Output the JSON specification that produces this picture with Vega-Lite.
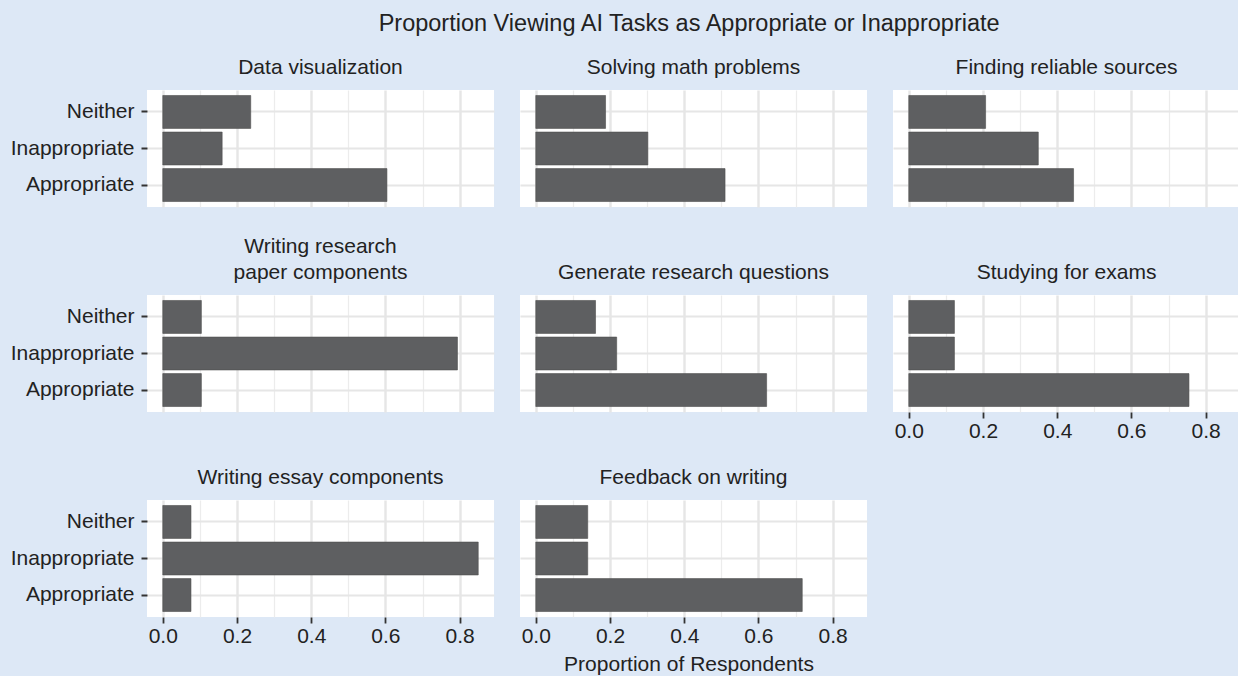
{
  "$schema": "https://vega.github.io/schema/vega-lite/v6.json",
  "background": "#dde8f6",
  "padding": {"left": 10, "top": 11, "right": 0, "bottom": 2},
  "title": {
    "text": "Proportion Viewing AI Tasks as Appropriate or Inappropriate",
    "fontSize": 23.5,
    "anchor": "middle",
    "frame": "bounds",
    "dx": 64,
    "offset": 22
  },
  "data": {
    "values": [
      {"task": "Data visualization", "response": "Neither", "prop": 0.237},
      {"task": "Data visualization", "response": "Inappropriate", "prop": 0.16},
      {"task": "Data visualization", "response": "Appropriate", "prop": 0.604},
      {"task": "Solving math problems", "response": "Neither", "prop": 0.188},
      {"task": "Solving math problems", "response": "Inappropriate", "prop": 0.302},
      {"task": "Solving math problems", "response": "Appropriate", "prop": 0.51},
      {"task": "Finding reliable sources", "response": "Neither", "prop": 0.207},
      {"task": "Finding reliable sources", "response": "Inappropriate", "prop": 0.349},
      {"task": "Finding reliable sources", "response": "Appropriate", "prop": 0.444},
      {"task": "Writing research paper components", "response": "Neither", "prop": 0.104},
      {"task": "Writing research paper components", "response": "Inappropriate", "prop": 0.794},
      {"task": "Writing research paper components", "response": "Appropriate", "prop": 0.104},
      {"task": "Generate research questions", "response": "Neither", "prop": 0.161},
      {"task": "Generate research questions", "response": "Inappropriate", "prop": 0.218},
      {"task": "Generate research questions", "response": "Appropriate", "prop": 0.622},
      {"task": "Studying for exams", "response": "Neither", "prop": 0.123},
      {"task": "Studying for exams", "response": "Inappropriate", "prop": 0.123},
      {"task": "Studying for exams", "response": "Appropriate", "prop": 0.755},
      {"task": "Writing essay components", "response": "Neither", "prop": 0.076},
      {"task": "Writing essay components", "response": "Inappropriate", "prop": 0.85},
      {"task": "Writing essay components", "response": "Appropriate", "prop": 0.076},
      {"task": "Feedback on writing", "response": "Neither", "prop": 0.14},
      {"task": "Feedback on writing", "response": "Inappropriate", "prop": 0.14},
      {"task": "Feedback on writing", "response": "Appropriate", "prop": 0.718}
    ]
  },
  "columns": 3,
  "bounds": "flush",
  "spacing": {"row": 88, "column": 26},
  "concat": [
    {
      "title": "Data visualization",
      "width": 347, "height": 117,
      "transform": [{"filter": "datum.task === 'Data visualization'"}],
      "mark": "bar",
      "encoding": {
        "y": {"field": "response", "type": "nominal", "sort": ["Neither", "Inappropriate", "Appropriate"], "scale": {"paddingInner": 0.1, "paddingOuter": 0.15}, "axis": {"title": null}},
        "x": {"field": "prop", "type": "quantitative", "scale": {"domain": [-0.0425, 0.8925], "nice": false, "zero": false}, "axis": {"title": null, "labels": false, "ticks": false}},
        "x2": {"datum": 0}
      }
    },
    {
      "title": "Solving math problems",
      "width": 347, "height": 117,
      "transform": [{"filter": "datum.task === 'Solving math problems'"}],
      "mark": "bar",
      "encoding": {
        "y": {"field": "response", "type": "nominal", "sort": ["Neither", "Inappropriate", "Appropriate"], "scale": {"paddingInner": 0.1, "paddingOuter": 0.15}, "axis": {"title": null, "labels": false, "ticks": false}},
        "x": {"field": "prop", "type": "quantitative", "scale": {"domain": [-0.0425, 0.8925], "nice": false, "zero": false}, "axis": {"title": null, "labels": false, "ticks": false}},
        "x2": {"datum": 0}
      }
    },
    {
      "title": "Finding reliable sources",
      "width": 347, "height": 117,
      "transform": [{"filter": "datum.task === 'Finding reliable sources'"}],
      "mark": "bar",
      "encoding": {
        "y": {"field": "response", "type": "nominal", "sort": ["Neither", "Inappropriate", "Appropriate"], "scale": {"paddingInner": 0.1, "paddingOuter": 0.15}, "axis": {"title": null, "labels": false, "ticks": false}},
        "x": {"field": "prop", "type": "quantitative", "scale": {"domain": [-0.0425, 0.8925], "nice": false, "zero": false}, "axis": {"title": null, "labels": false, "ticks": false}},
        "x2": {"datum": 0}
      }
    },
    {
      "title": {"text": ["Writing research", "paper components"], "lineHeight": 26},
      "width": 347, "height": 117,
      "transform": [{"filter": "datum.task === 'Writing research paper components'"}],
      "mark": "bar",
      "encoding": {
        "y": {"field": "response", "type": "nominal", "sort": ["Neither", "Inappropriate", "Appropriate"], "scale": {"paddingInner": 0.1, "paddingOuter": 0.15}, "axis": {"title": null}},
        "x": {"field": "prop", "type": "quantitative", "scale": {"domain": [-0.0425, 0.8925], "nice": false, "zero": false}, "axis": {"title": null, "labels": false, "ticks": false}},
        "x2": {"datum": 0}
      }
    },
    {
      "title": "Generate research questions",
      "width": 347, "height": 117,
      "transform": [{"filter": "datum.task === 'Generate research questions'"}],
      "mark": "bar",
      "encoding": {
        "y": {"field": "response", "type": "nominal", "sort": ["Neither", "Inappropriate", "Appropriate"], "scale": {"paddingInner": 0.1, "paddingOuter": 0.15}, "axis": {"title": null, "labels": false, "ticks": false}},
        "x": {"field": "prop", "type": "quantitative", "scale": {"domain": [-0.0425, 0.8925], "nice": false, "zero": false}, "axis": {"title": null, "labels": false, "ticks": false}},
        "x2": {"datum": 0}
      }
    },
    {
      "title": "Studying for exams",
      "width": 347, "height": 117,
      "transform": [{"filter": "datum.task === 'Studying for exams'"}],
      "mark": "bar",
      "encoding": {
        "y": {"field": "response", "type": "nominal", "sort": ["Neither", "Inappropriate", "Appropriate"], "scale": {"paddingInner": 0.1, "paddingOuter": 0.15}, "axis": {"title": null, "labels": false, "ticks": false}},
        "x": {"field": "prop", "type": "quantitative", "scale": {"domain": [-0.0425, 0.8925], "nice": false, "zero": false}, "axis": {"title": null}},
        "x2": {"datum": 0}
      }
    },
    {
      "title": "Writing essay components",
      "width": 347, "height": 117,
      "transform": [{"filter": "datum.task === 'Writing essay components'"}],
      "mark": "bar",
      "encoding": {
        "y": {"field": "response", "type": "nominal", "sort": ["Neither", "Inappropriate", "Appropriate"], "scale": {"paddingInner": 0.1, "paddingOuter": 0.15}, "axis": {"title": null}},
        "x": {"field": "prop", "type": "quantitative", "scale": {"domain": [-0.0425, 0.8925], "nice": false, "zero": false}, "axis": {"title": null}},
        "x2": {"datum": 0}
      }
    },
    {
      "title": "Feedback on writing",
      "width": 347, "height": 117,
      "transform": [{"filter": "datum.task === 'Feedback on writing'"}],
      "mark": "bar",
      "encoding": {
        "y": {"field": "response", "type": "nominal", "sort": ["Neither", "Inappropriate", "Appropriate"], "scale": {"paddingInner": 0.1, "paddingOuter": 0.15}, "axis": {"title": null, "labels": false, "ticks": false}},
        "x": {"field": "prop", "type": "quantitative", "scale": {"domain": [-0.0425, 0.8925], "nice": false, "zero": false}, "axis": {"title": "Proportion of Respondents", "titleX": 168.5}},
        "x2": {"datum": 0}
      }
    }
  ],
  "config": {
    "font": "Liberation Sans",
    "view": {"fill": "white", "stroke": null},
    "bar": {"color": "#5e5f61", "stroke": "#4f4f4f", "strokeWidth": 0.6},
    "title": {
      "font": "Liberation Sans",
      "fontSize": 21,
      "fontWeight": "normal",
      "color": "#222222",
      "anchor": "middle",
      "frame": "group",
      "baseline": "bottom",
      "offset": 12
    },
    "axis": {
      "domain": false,
      "grid": true,
      "labelFont": "Liberation Sans",
      "labelFontSize": 21,
      "labelColor": "#222222",
      "titleFont": "Liberation Sans",
      "titleFontSize": 21,
      "titleFontWeight": "normal",
      "titleColor": "#222222",
      "tickSize": 6,
      "tickColor": "#333333"
    },
    "axisY": {
      "bandPosition": 0.5,
      "gridColor": "#e6e6e6",
      "gridWidth": 2.2,
      "tickWidth": 2,
      "labelPadding": 7
    },
    "axisX": {
      "values": [0, 0.1, 0.2, 0.3, 0.4, 0.5, 0.6, 0.7, 0.8],
      "gridColor": {"condition": {"test": "round(datum.value*10) % 2 === 1", "value": "#ececec"}, "value": "#e6e6e6"},
      "gridWidth": {"condition": {"test": "round(datum.value*10) % 2 === 1", "value": 1.2}, "value": 2.4},
      "tickWidth": 1.8,
      "tickColor": {"condition": {"test": "round(datum.value*10) % 2 === 1", "value": "transparent"}, "value": "#333333"},
      "labelExpr": "round(datum.value*10) % 2 === 1 ? '' : format(datum.value, '.1f')",
      "labelPadding": 2,
      "titlePadding": 7
    }
  }
}
